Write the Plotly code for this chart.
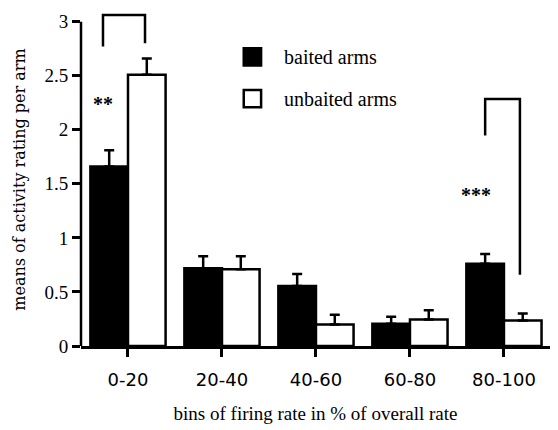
import plotly.graph_objects as go

categories = ["0-20", "20-40", "40-60", "60-80", "80-100"]
baited = [1.66, 0.72, 0.555, 0.205, 0.76]
baited_err = [0.15, 0.11, 0.11, 0.065, 0.09]
unbaited = [2.51, 0.71, 0.20, 0.245, 0.235]
unbaited_err = [0.15, 0.12, 0.09, 0.085, 0.065]
y_ticks = [0, 0.5, 1, 1.5, 2, 2.5, 3]
y_tick_text = ["0", "0.5", "1", "1.5", "2", "2.5", "3"]

# significance brackets (data units): x positions and y levels
bracket1_x = [-0.266, -0.266, 0.181, 0.181]
bracket1_y = [2.77, 3.062, 3.062, 2.80]
bracket2_x = [3.80, 3.80, 4.17, 4.17]
bracket2_y = [1.947, 2.285, 2.285, 0.658]
stars = [("**", -0.266, 2.276), ("***", 3.70, 1.435)]

legend_labels = ["baited arms", "unbaited arms"]

SERIF = "Liberation Serif"
LW = 2.5
xpos = list(range(len(categories)))

fig = go.Figure()
fig.add_trace(go.Bar(
    x=xpos, y=baited, name=legend_labels[0],
    marker=dict(color="black", line=dict(color="black", width=LW)),
    error_y=dict(type="data", symmetric=False, array=baited_err,
                 arrayminus=[0] * len(baited_err), color="black",
                 thickness=LW, width=5),
    showlegend=False,
))
fig.add_trace(go.Bar(
    x=xpos, y=unbaited, name=legend_labels[1],
    marker=dict(color="white", line=dict(color="black", width=LW)),
    error_y=dict(type="data", symmetric=False, array=unbaited_err,
                 arrayminus=[0] * len(unbaited_err), color="black",
                 thickness=LW, width=5),
    showlegend=False,
))

for bx, by in [(bracket1_x, bracket1_y), (bracket2_x, bracket2_y)]:
    fig.add_trace(go.Scatter(x=bx, y=by, mode="lines",
                             line=dict(color="black", width=LW),
                             showlegend=False, hoverinfo="skip",
                             cliponaxis=False))

for txt, sx, sy in stars:
    fig.add_annotation(x=sx, y=sy, text=f"<b>{txt}</b>", showarrow=False,
                       font=dict(family=SERIF, size=20, color="black"),
                       xanchor="center", yanchor="middle", yshift=-4)

# y axis line from 0 to 3
fig.add_shape(type="line", xref="paper", yref="y", x0=0, x1=0, y0=0, y1=3,
              line=dict(color="black", width=LW))

# legend (manual)
legend_y = [0.868, 0.743]
legend_fill = ["black", "white"]
for lab, ly, fc in zip(legend_labels, legend_y, legend_fill):
    fig.add_shape(type="rect", xref="paper", yref="paper",
                  x0=0.347, x1=0.384, y0=ly - 0.026, y1=ly + 0.026,
                  fillcolor=fc, line=dict(color="black", width=LW))
    fig.add_annotation(xref="paper", yref="paper", x=0.4286, y=ly, text=lab,
                       showarrow=False, xanchor="left", yanchor="middle",
                       font=dict(family=SERIF, size=20, color="black"))

fig.update_layout(
    width=558, height=430,
    margin=dict(l=81, r=8, t=13, b=80),
    plot_bgcolor="white", paper_bgcolor="white",
    barmode="group", bargap=0.2, bargroupgap=0,
    showlegend=False,
    xaxis=dict(
        range=[-0.5, 4.49], tickvals=xpos, ticktext=categories,
        showline=True, linecolor="black", linewidth=LW,
        ticks="outside", ticklen=8, tickwidth=LW, tickcolor="black",
        ticklabelstandoff=8,
        tickfont=dict(family="DejaVu Sans", size=18, color="black"),
        showgrid=False, zeroline=False,
        title=dict(text="bins of firing rate in % of overall rate",
                   font=dict(family=SERIF, size=19, color="black"),
                   standoff=18),
    ),
    yaxis=dict(
        range=[0, 3.08], tickvals=y_ticks, ticktext=y_tick_text,
        showline=False,
        ticks="outside", ticklen=8, tickwidth=LW, tickcolor="black",
        tickfont=dict(family=SERIF, size=19, color="black"),
        showgrid=False, zeroline=False,
        title=dict(text="means of activity rating per arm",
                   font=dict(family="DejaVu Serif", size=16, color="black"),
                   standoff=14),
    ),
)

fig.write_html("out.html")
